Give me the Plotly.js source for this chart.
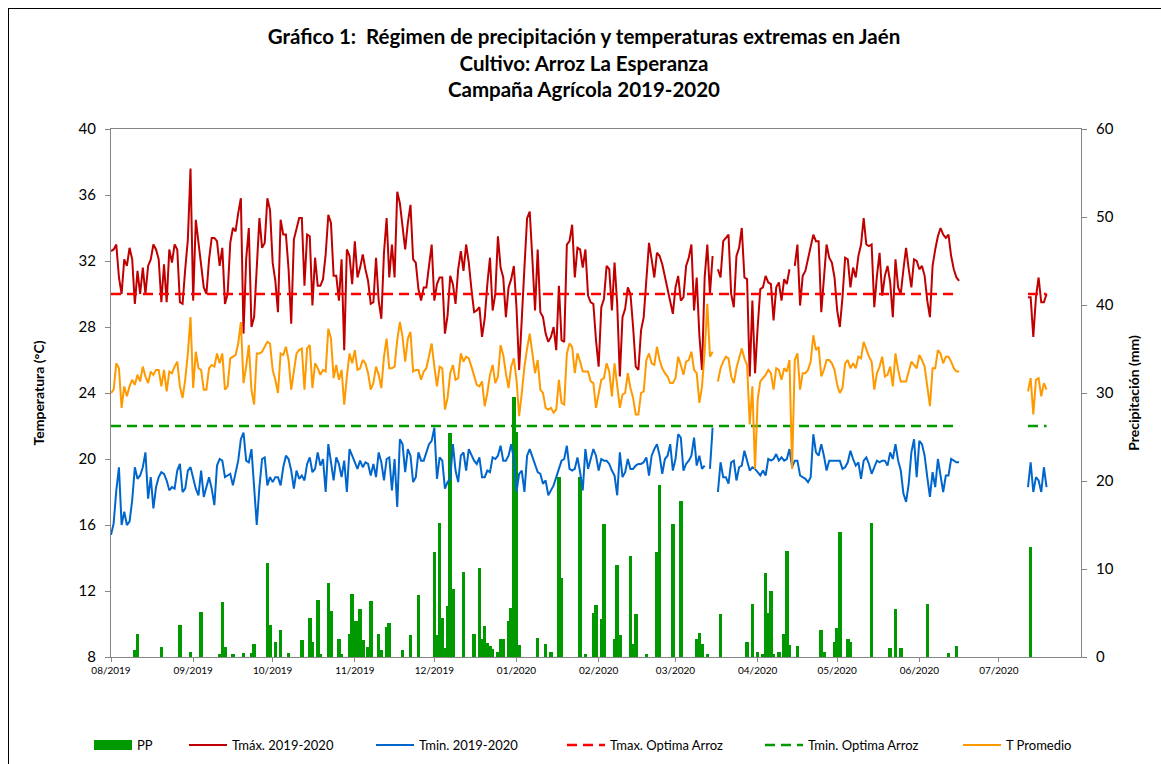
<!DOCTYPE html>
<html><head><meta charset="utf-8">
<script src="https://cdn.plot.ly/plotly-3.0.1.min.js"></script>
<style>
html,body{margin:0;padding:0;background:#fff;overflow:hidden;}
#chart{position:absolute;left:0;top:0;width:1161px;height:764px;}
#frame{position:absolute;left:8px;top:8px;width:1180px;height:790px;border:1px solid #000;pointer-events:none;}
</style></head><body>
<div id="chart"></div><div id="frame"></div>
<script>
// ---- data (daily values) ----
const seasonStart = '2019-08-01';   // day 0 of the main series
const julyStart = '2020-07-12';     // first day of the short July segment

const tmax = [
32.6,32.7,33.0,31.0,30.0,32.1,31.7,32.8,32.1,29.4,
31.4,30.0,31.6,30.0,31.7,32.1,33.0,32.7,32.1,29.5,
31.8,29.5,32.7,31.9,33.0,32.7,29.5,29.4,31.5,33.3,
37.6,29.6,34.5,33.1,31.5,30.4,30.0,32.1,33.4,33.4,
33.2,31.7,32.8,29.4,30.0,33.1,34.0,33.8,34.9,35.8,
27.6,32.1,34.0,28.0,28.6,31.5,34.6,32.8,33.1,35.8,
35.1,31.9,30.8,
28.9,34.5,33.6,33.6,31.5,28.2,33.3,33.9,34.6,34.6,
30.5,33.6,33.5,29.3,32.2,30.5,30.5,30.9,32.4,34.8,
34.3,31.1,31.1,29.6,32.1,26.6,32.7,32.3,30.6,33.2,
31.0,31.6,32.4,31.5,30.8,29.4,29.5,32.2,29.6,28.5,
32.5,34.6,31.0,33.0,31.0,36.2,35.5,34.1,32.7,34.3,
35.4,32.1,31.9,30.3,29.6,30.4,30.4,31.7,33.0,29.6,
30.6,
31.0,31.0,27.6,28.7,31.1,30.6,29.4,31.5,32.6,31.4,
33.0,31.9,30.3,28.9,29.0,29.2,27.4,28.5,30.6,32.2,
29.0,30.0,33.5,31.6,31.0,28.6,30.4,30.9,31.7,29.2,
25.4,29.0,31.6,34.6,35.0,32.1,29.0,32.7,28.9,28.6,
27.6,27.1,27.4,28.0,26.6,30.5,27.2,27.1,33.0,33.2,
34.2,31.0,32.8,32.7,31.6,32.7,29.9,29.5,
29.4,27.2,25.6,29.2,29.7,31.7,31.5,29.0,31.9,29.4,
25.0,28.6,29.1,30.4,30.0,28.0,25.6,25.4,27.8,28.6,
31.0,33.1,32.1,31.0,32.5,32.3,31.8,31.0,30.2,29.4,
28.8,30.4,31.1,29.6,29.8,31.7,32.2,33.0,29.0,31.0,
27.5,25.4,31.0,33.0,30.0,32.3,null,31.5,31.0,33.2,
33.4,33.6,30.0,29.2,32.3,32.8,34.0,31.0,30.9,25.0,
29.6,25.2,
28.0,30.3,30.4,31.1,30.7,30.6,28.4,30.4,30.7,29.6,
30.9,30.6,31.5,null,31.7,33.0,29.3,31.1,31.4,32.1,
32.9,33.6,33.2,33.2,28.9,31.1,33.0,32.2,31.9,31.0,
29.0,28.0,29.8,32.2,32.1,30.4,31.6,31.0,32.3,33.0,
34.6,33.0,32.9,33.0,29.2,31.1,32.5,29.9,31.1,31.7,
30.7,28.6,32.1,30.4,30.0,31.5,32.8,31.5,30.4,32.1,
32.0,31.5,31.7,31.1,29.6,28.6,31.7,32.7,33.5,34.0,
33.6,33.4,33.6,32.3,31.5,31.0,30.8
];

const tmin = [
15.4,16.1,18.1,19.5,16.0,16.8,16.0,16.2,17.5,19.5,
18.8,19.0,19.5,20.4,17.6,18.9,17.0,18.3,18.9,19.2,
19.1,18.7,18.1,18.3,18.2,19.3,19.7,18.0,18.2,19.3,
19.5,18.8,18.2,17.8,19.3,17.7,18.3,18.9,18.2,17.2,
19.6,20.0,19.9,18.9,19.0,19.1,18.4,19.1,19.9,21.2,
21.6,19.9,19.8,20.6,18.1,16.0,18.3,20.0,20.1,18.4,
18.9,18.6,18.9,
18.9,18.4,19.5,20.2,20.0,19.3,18.2,19.3,18.8,19.0,
18.7,19.7,20.1,19.2,19.4,20.4,19.6,20.0,18.0,20.9,
19.8,18.7,20.1,19.7,18.9,19.9,18.0,20.6,20.2,19.8,
19.4,19.9,19.5,19.8,19.7,19.0,19.7,18.9,20.4,19.8,
18.7,20.0,20.1,18.1,20.0,17.1,21.2,20.9,19.2,20.6,
20.2,18.6,18.9,20.4,19.9,19.9,20.4,20.9,21.1,21.9,
18.8,
20.1,19.9,18.2,18.6,18.8,20.9,19.3,18.6,20.2,20.4,
19.3,20.6,20.2,19.9,19.7,20.1,18.9,18.9,19.3,19.2,
20.1,20.0,20.2,20.8,19.9,19.9,20.2,20.9,20.0,18.0,
19.1,19.3,18.0,20.2,20.6,20.1,19.6,19.2,19.1,18.5,
18.7,17.8,18.1,18.4,18.9,19.4,19.9,20.0,20.8,19.4,
19.3,19.4,20.1,19.2,18.1,20.6,19.4,20.0,
20.6,20.2,19.3,20.0,19.9,19.9,19.7,19.3,19.0,17.8,
20.4,18.9,19.2,20.0,19.4,19.4,19.6,19.7,19.7,19.8,
20.1,19.0,20.2,20.6,20.9,20.2,19.1,20.0,20.2,20.9,
19.3,20.0,21.5,21.3,19.3,19.7,19.9,20.2,21.3,19.6,
20.2,19.4,19.6,null,19.4,21.9,null,18.0,19.8,18.9,
18.9,18.5,19.8,19.9,18.7,19.5,19.6,20.5,19.8,19.3,
19.5,
19.4,19.2,19.0,19.3,19.0,20.0,19.9,20.0,20.3,19.9,
20.1,19.9,20.0,20.6,19.5,19.9,19.9,19.0,18.9,18.8,
18.6,18.9,21.5,20.4,20.2,20.9,20.2,19.3,19.9,19.9,
19.9,19.9,19.9,19.4,19.5,19.8,20.5,20.0,19.6,19.8,
18.8,19.9,20.1,19.7,19.1,19.5,19.9,19.8,19.9,19.9,
19.6,20.4,20.0,20.9,19.9,19.3,17.9,17.4,18.5,20.4,
21.2,
18.9,21.1,20.9,20.2,18.9,17.7,19.2,18.3,20.0,18.9,
18.0,19.0,19.0,20.0,19.9,19.8,19.8
];

const tavg = [
24.0,24.2,25.8,25.5,23.1,24.4,23.8,24.4,24.8,24.5,
25.1,24.7,25.6,25.0,24.6,25.3,25.1,25.4,25.4,24.4,
25.4,24.1,25.3,25.2,25.6,25.9,24.4,23.7,24.8,26.4,
28.6,24.3,26.5,25.5,25.4,24.2,24.2,25.5,25.7,25.6,
26.4,25.8,26.4,24.2,24.4,26.1,26.2,26.3,27.0,28.3,
24.6,25.6,26.9,24.2,23.3,26.4,26.4,26.5,26.8,27.1,
27.0,25.4,24.8,
24.0,26.4,26.3,26.8,26.0,24.2,25.4,26.4,26.6,26.7,
24.2,26.7,26.9,24.3,25.8,25.5,25.1,25.4,25.3,27.9,
27.3,24.9,25.7,24.8,25.4,23.3,25.0,26.4,25.8,26.6,
25.4,25.5,26.0,25.8,25.2,24.2,24.6,25.6,25.1,24.3,
26.2,27.3,25.5,25.5,25.6,27.2,28.3,27.4,25.9,27.3,
27.7,25.3,25.4,25.4,24.8,25.3,25.5,26.3,27.0,25.6,
24.4,
25.6,25.5,23.0,23.7,25.2,25.7,24.8,24.9,26.4,25.9,
26.2,26.1,25.6,25.0,24.5,24.4,24.7,23.2,24.0,25.1,
25.7,24.6,25.0,26.9,26.3,25.2,24.3,25.6,26.1,24.8,
22.6,24.0,25.6,26.7,27.6,26.4,25.2,26.0,24.2,24.0,
23.1,23.0,23.1,22.8,23.0,24.8,23.4,23.3,26.4,27.0,
26.8,25.2,26.4,25.9,25.3,25.3,25.3,24.7,
24.6,23.1,24.0,24.8,24.9,25.8,25.3,23.8,25.8,24.5,
23.1,23.9,24.0,25.2,24.3,23.7,22.7,22.7,24.0,24.1,
26.0,26.4,25.8,25.7,26.8,26.0,25.5,25.2,25.0,24.6,
24.6,24.9,26.2,25.7,25.1,25.9,26.0,26.5,25.4,25.2,
23.4,24.4,26.5,29.4,26.2,26.5,null,24.7,25.5,25.9,
26.2,26.1,25.0,24.6,25.5,26.1,26.7,26.1,25.7,22.1,
24.4,19.4,
23.6,24.7,24.9,25.1,25.4,25.2,24.2,25.5,25.4,24.8,
25.5,25.3,26.0,19.4,26.0,26.4,24.2,25.2,25.2,25.4,
25.9,27.5,26.6,26.8,25.0,25.4,26.0,26.0,25.8,25.4,
24.5,24.0,24.3,25.8,26.0,25.5,25.8,25.5,26.2,26.1,
27.1,26.6,26.2,25.9,24.2,25.2,25.6,26.2,25.0,25.1,
25.6,24.4,26.4,25.4,24.7,24.7,24.7,25.3,25.9,25.7,
25.5,26.3,26.0,25.6,24.4,23.2,25.5,25.5,26.6,26.4,
25.8,26.2,26.2,25.9,25.5,25.3,25.3
];

const tmaxJul = [29.8,29.8,27.4,29.8,31.0,29.5,29.5,30.0];
const tminJul = [18.3,19.8,18.0,18.9,18.7,18.0,19.5,18.3];
const tavgJul = [24.1,24.9,22.7,24.8,24.9,23.8,24.6,24.2];

// precipitation: day number (days since 2019-08-01) and mm
const ppDay = [9,10,19,26,30,34,41,42,43,46,50,53,54,59,60,62,64,67,72,75,76,78,79,82,83,86,87,90,91,92,93,94,95,97,98,101,102,104,105,110,113,116,122,123,124,125,126,127,128,129,133,137,139,140,141,142,143,144,146,147,148,150,151,152,153,154,161,164,166,169,170,177,179,182,183,185,186,190,191,192,196,197,198,202,206,207,212,215,221,222,223,225,230,240,242,244,246,247,248,249,250,252,254,255,256,259,268,269,273,274,275,278,279,287,294,296,298,308,316,319,347];
const ppMm = [0.8,2.6,1.1,3.6,0.6,5.1,0.3,6.3,1.1,0.3,0.5,0.5,1.5,10.7,3.6,1.7,3.1,0.5,1.9,4.4,1.7,6.5,0.3,8.4,5.2,2.0,0.3,2.6,7.2,4.1,4.1,5.5,1.9,1.1,6.4,2.6,0.8,3.4,3.9,0.8,2.5,7.1,11.9,2.5,15.2,4.4,1.0,5.8,25.5,7.7,9.7,2.6,10.1,2.0,3.5,1.6,1.2,0.9,0.6,2.0,2.0,4.1,5.6,29.5,25.6,1.4,2.2,1.5,0.6,20.5,9.0,20.5,0.3,5.0,5.9,4.3,15.1,2.0,10.4,2.5,11.5,1.5,4.9,0.3,11.9,19.5,15.1,17.7,2.0,2.7,1.5,0.3,4.9,1.7,6.0,0.6,0.3,9.5,5.0,7.5,0.3,0.6,2.6,12.1,1.4,1.2,3.1,0.6,1.7,3.3,14.2,2.0,1.7,15.2,1.0,5.5,1.0,6.0,0.5,1.3,12.5];

const tmaxOptimal = 30;
const tminOptimal = 22;

const monthTicks = ['2019-08-01','2019-09-01','2019-10-01','2019-11-01','2019-12-01','2020-01-01','2020-02-01','2020-03-01','2020-04-01','2020-05-01','2020-06-01','2020-07-01'];
const monthLabels = ['08/2019','09/2019','10/2019','11/2019','12/2019','01/2020','02/2020','03/2020','04/2020','05/2020','06/2020','07/2020'];

// ---- build ----
function dayToDate(start, n){
  const d = new Date(start + 'T00:00:00Z');
  d.setUTCDate(d.getUTCDate() + n);
  return d.toISOString().slice(0,10);
}
const dates1 = tmax.map((_, i) => dayToDate(seasonStart, i));
const dates2 = tmaxJul.map((_, i) => dayToDate(julyStart, i));
const gapDate = dayToDate(seasonStart, tmax.length);
const X = dates1.concat([gapDate], dates2);
const join = (a, b) => a.concat([null], b);
const constLine = v => X.map(d => d === gapDate ? null : v);
const ppDates = ppDay.map(n => dayToDate(seasonStart, n));

const FONT = 'Lato, "Liberation Sans", Arial, sans-serif';
const DAY = 86400000;

const traces = [
  {type:'bar', name:'PP', x:ppDates, y:ppMm, yaxis:'y', showlegend:false,
   marker:{color:'#009900', line:{width:0}}, width: ppDates.map(() => 1.35*DAY)},
  // legend swatch for PP (wide green block like the original)
  {type:'scatter', mode:'lines', name:'PP', x:[null], y:[null], yaxis:'y', legend:'legend',
   line:{color:'#009900', width:10}},
  {type:'scatter', mode:'lines', name:'Tmáx. 2019-2020', x:X, y:join(tmax, tmaxJul), yaxis:'y2', legend:'legend2',
   line:{color:'#C00000', width:2}},
  {type:'scatter', mode:'lines', name:'Tmin. 2019-2020', x:X, y:join(tmin, tminJul), yaxis:'y2', legend:'legend3',
   line:{color:'#0066CC', width:2}},
  {type:'scatter', mode:'lines', name:'Tmax. Optima Arroz', x:X, y:constLine(tmaxOptimal), yaxis:'y2', legend:'legend4',
   line:{color:'#FF0000', width:2.5, dash:'10px,6px'}},
  {type:'scatter', mode:'lines', name:'Tmin. Optima Arroz', x:X, y:constLine(tminOptimal), yaxis:'y2', legend:'legend5',
   line:{color:'#009900', width:2.5, dash:'10px,6px'}},
  {type:'scatter', mode:'lines', name:'T Promedio', x:X, y:join(tavg, tavgJul), yaxis:'y2', legend:'legend6',
   line:{color:'#FF9900', width:2}}
];

const legBase = {orientation:'h', xref:'container', yref:'container', y:1-745/764, yanchor:'middle', xanchor:'left',
  bgcolor:'rgba(0,0,0,0)', itemwidth:38, font:{family:FONT, size:13, color:'#000'}};
const legXpx = [89, 184, 371, 562, 760, 958];

const axisCol = '#868686';
const layout = {
  width:1161, height:764,
  margin:{l:111, r:80, t:129, b:107, autoexpand:false},
  paper_bgcolor:'rgba(0,0,0,0)', plot_bgcolor:'#fff',
  font:{family:FONT, color:'#000'},
  bargap:0,
  title:{text:'Gráfico 1:\u00a0 Régimen de precipitación y temperaturas extremas en Jaén<br>Cultivo: Arroz La Esperanza<br>Campaña Agrícola 2019-2020',
    font:{family:FONT, size:20.5, color:'#000', weight:'bold'},
    xref:'container', x:0.503, xanchor:'center', yref:'container', y:1-44/764, yanchor:'middle'},
  xaxis:{type:'date', range:['2019-08-01','2020-08-01'], tickmode:'array', tickvals:monthTicks, ticktext:monthLabels,
    ticks:'outside', ticklen:4, tickcolor:axisCol, showline:true, linecolor:axisCol, linewidth:1, mirror:true,
    showgrid:false, zeroline:false, tickfont:{family:FONT, size:10, color:'#000'}},
  yaxis:{range:[0,60], dtick:10, side:'right', showline:true, linecolor:axisCol, ticks:'outside', ticklen:5, tickcolor:axisCol,
    showgrid:false, zeroline:false, tickfont:{family:FONT, size:15, color:'#000'}, ticklabelstandoff:6,
    title:{text:'Precipitación (mm)', font:{family:FONT, size:14, color:'#000', weight:'bold'}, standoff:16}},
  yaxis2:{range:[8,40], dtick:4, side:'left', overlaying:'y', showline:true, linecolor:axisCol, ticks:'outside', ticklen:5, tickcolor:axisCol,
    showgrid:false, zeroline:false, tickfont:{family:FONT, size:15, color:'#000'}, ticklabelstandoff:6,
    title:{text:'Temperatura (°C)', font:{family:FONT, size:14, color:'#000', weight:'bold'}, standoff:30}},
  showlegend:true
};
['legend','legend2','legend3','legend4','legend5','legend6'].forEach((k, i) => {
  layout[k] = Object.assign({}, legBase, {x: legXpx[i]/1161});
});

Plotly.newPlot('chart', traces, layout, {displayModeBar:false, staticPlot:true});
</script>
</body></html>
